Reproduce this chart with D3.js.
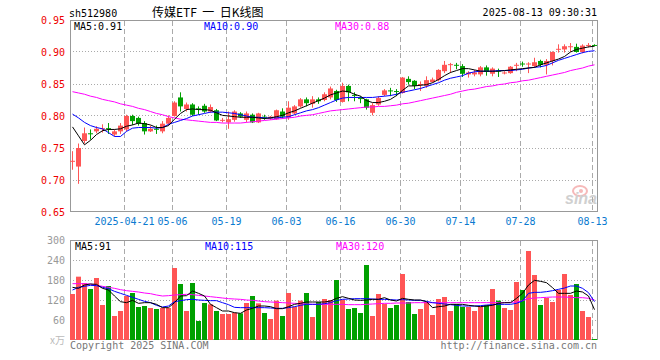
<!DOCTYPE html>
<html>
<head>
<meta charset="utf-8">
<script src="https://cdn.jsdelivr.net/npm/d3@7"></script>
<style>
  body { margin: 0; background: #fff; }
  svg { display: block; }
  text { font-family: "DejaVu Sans Mono", "Liberation Mono", monospace; font-size: 10px; }
</style>
</head>
<body>
<div id="chart"></div>
<script>
// trading days shown (2025)
const dates = [
  '04-08','04-09','04-10','04-11','04-14','04-15','04-16','04-17','04-18','04-21',
  '04-22','04-23','04-24','04-25','04-28','04-29','04-30','05-06','05-07','05-08',
  '05-09','05-12','05-13','05-14','05-15','05-16','05-19','05-20','05-21','05-22',
  '05-23','05-26','05-27','05-28','05-29','05-30','06-03','06-04','06-05','06-06',
  '06-09','06-10','06-11','06-12','06-13','06-16','06-17','06-18','06-19','06-20',
  '06-23','06-24','06-25','06-26','06-27','06-30','07-01','07-02','07-03','07-04',
  '07-07','07-08','07-09','07-10','07-11','07-14','07-15','07-16','07-17','07-18',
  '07-21','07-22','07-23','07-24','07-25','07-28','07-29','07-30','07-31','08-01',
  '08-04','08-05','08-06','08-07','08-08','08-11','08-12','08-13'
];

const open = [
  0.729,0.721,0.761,0.773,0.776,0.780,0.781,0.771,0.776,0.779,
  0.800,0.797,0.789,0.776,0.780,0.776,0.788,0.800,0.829,0.811,
  0.818,0.812,0.816,0.807,0.809,0.793,0.790,0.794,0.804,0.794,
  0.802,0.790,0.799,0.796,0.795,0.807,0.797,0.804,0.815,0.826,
  0.819,0.826,0.825,0.829,0.839,0.822,0.847,0.833,0.828,0.826,
  0.805,0.818,0.833,0.840,0.839,0.836,0.858,0.855,0.849,0.847,
  0.853,0.856,0.870,0.880,0.880,0.878,0.865,0.865,0.865,0.876,
  0.866,0.871,0.867,0.867,0.879,0.882,0.881,0.878,0.886,0.880,
  0.886,0.904,0.904,0.908,0.908,0.900,0.910,0.911
];
const high = [
  0.745,0.757,0.782,0.779,0.784,0.787,0.789,0.779,0.789,0.802,
  0.802,0.799,0.792,0.785,0.785,0.792,0.801,0.823,0.837,0.821,
  0.820,0.815,0.819,0.818,0.811,0.797,0.807,0.809,0.806,0.807,
  0.804,0.805,0.802,0.800,0.810,0.812,0.823,0.817,0.828,0.829,
  0.831,0.829,0.837,0.846,0.841,0.852,0.849,0.837,0.831,0.827,
  0.820,0.831,0.842,0.844,0.842,0.861,0.862,0.856,0.854,0.862,
  0.860,0.873,0.886,0.883,0.883,0.881,0.870,0.872,0.878,0.879,
  0.876,0.874,0.870,0.878,0.883,0.885,0.884,0.891,0.888,0.889,
  0.901,0.912,0.912,0.914,0.913,0.912,0.914,0.912
];
const low = [
  0.716,0.694,0.757,0.763,0.773,0.774,0.772,0.768,0.772,0.776,
  0.786,0.785,0.771,0.775,0.772,0.773,0.785,0.799,0.807,0.807,
  0.800,0.802,0.805,0.805,0.792,0.790,0.780,0.791,0.797,0.790,
  0.789,0.789,0.794,0.794,0.794,0.796,0.794,0.802,0.813,0.815,
  0.813,0.819,0.823,0.826,0.822,0.821,0.823,0.823,0.820,0.810,
  0.801,0.816,0.831,0.831,0.831,0.835,0.849,0.842,0.839,0.844,
  0.852,0.854,0.867,0.867,0.873,0.861,0.860,0.862,0.862,0.863,
  0.862,0.861,0.865,0.866,0.870,0.877,0.867,0.875,0.876,0.865,
  0.879,0.899,0.899,0.900,0.899,0.898,0.907,0.909
];
const close = [
  0.730,0.750,0.773,0.772,0.780,0.781,0.780,0.776,0.785,0.800,
  0.792,0.788,0.776,0.780,0.779,0.788,0.797,0.821,0.815,0.818,
  0.802,0.811,0.807,0.814,0.793,0.794,0.795,0.807,0.799,0.804,
  0.790,0.804,0.798,0.799,0.809,0.799,0.813,0.815,0.826,0.820,
  0.826,0.823,0.834,0.843,0.825,0.847,0.837,0.832,0.827,0.813,
  0.817,0.828,0.840,0.839,0.838,0.860,0.853,0.847,0.850,0.856,
  0.857,0.872,0.880,0.881,0.879,0.866,0.868,0.868,0.876,0.869,
  0.874,0.870,0.868,0.877,0.880,0.881,0.882,0.884,0.880,0.886,
  0.900,0.905,0.909,0.909,0.900,0.910,0.911,0.910
];

const ma5 = [
  0.783,0.769,0.755,0.762,0.771,0.777,0.779,0.779,0.780,0.784,
  0.786,0.789,0.788,0.786,0.782,0.782,0.785,0.795,0.804,0.810,
  0.811,0.810,0.810,0.809,0.805,0.801,0.800,0.799,0.798,0.798,
  0.798,0.797,0.796,0.797,0.799,0.801,0.805,0.808,0.812,0.816,
  0.820,0.824,0.828,0.833,0.836,0.839,0.838,0.834,0.831,0.824,
  0.821,0.821,0.823,0.826,0.832,0.840,0.847,0.847,0.848,0.849,
  0.852,0.857,0.863,0.868,0.871,0.874,0.874,0.872,0.870,0.870,
  0.870,0.870,0.871,0.872,0.873,0.874,0.875,0.876,0.880,0.883,
  0.886,0.889,0.893,0.900,0.904,0.906,0.908,0.909
];
const ma10 = [
  0.803,0.797,0.790,0.785,0.782,0.780,0.774,0.768,0.768,0.776,
  0.781,0.782,0.782,0.782,0.781,0.782,0.787,0.790,0.793,0.796,
  0.800,0.802,0.804,0.806,0.806,0.806,0.805,0.804,0.802,0.800,
  0.798,0.798,0.797,0.797,0.797,0.798,0.799,0.802,0.805,0.808,
  0.810,0.813,0.817,0.821,0.825,0.828,0.829,0.829,0.829,0.829,
  0.829,0.830,0.831,0.832,0.834,0.837,0.839,0.841,0.843,0.846,
  0.849,0.852,0.856,0.859,0.861,0.863,0.867,0.869,0.870,0.870,
  0.870,0.871,0.871,0.871,0.872,0.873,0.875,0.876,0.877,0.879,
  0.883,0.887,0.890,0.893,0.896,0.899,0.901,0.902
];
const ma30 = [
  0.838,0.836,0.834,0.831,0.829,0.826,0.824,0.822,0.819,0.817,
  0.815,0.812,0.810,0.807,0.804,0.802,0.799,0.797,0.795,0.794,
  0.793,0.792,0.791,0.790,0.790,0.789,0.789,0.789,0.789,0.790,
  0.791,0.792,0.793,0.794,0.795,0.796,0.797,0.798,0.800,0.801,
  0.802,0.804,0.806,0.808,0.809,0.810,0.811,0.812,0.813,0.814,
  0.814,0.815,0.815,0.816,0.817,0.819,0.820,0.822,0.824,0.826,
  0.828,0.830,0.832,0.834,0.837,0.839,0.841,0.842,0.844,0.846,
  0.847,0.849,0.850,0.852,0.853,0.855,0.856,0.858,0.860,0.862,
  0.864,0.866,0.868,0.871,0.873,0.875,0.878,0.880
];

// volume in 10k lots
const volume = [
  138,190,171,153,186,105,162,72,87,132,
  141,99,102,96,93,96,96,216,168,87,
  171,57,111,107,87,78,78,82,80,111,
  132,110,81,63,118,72,141,100,118,141,
  69,114,123,120,180,121,93,96,81,225,
  72,138,108,96,105,198,114,78,93,114,
  75,123,129,87,108,99,99,87,99,105,
  153,118,96,90,174,150,267,195,105,126,
  114,150,198,135,168,87,69,3
];
const volMa5 = [
  158,155,165,168,167,155,150,132,115,112,
  119,110,112,112,107,97,97,112,132,133,
  147,140,132,107,97,87,87,82,80,90,
  95,102,102,100,94,94,100,107,110,114,
  114,114,114,117,125,130,125,120,119,120,
  122,122,127,120,117,125,122,120,120,115,
  97,100,102,107,107,107,104,102,100,102,
  104,110,112,112,125,140,165,179,176,172,
  157,140,140,140,147,144,132,91
];
const volMa10 = [
  150,158,161,164,163,158,154,146,140,134,
  128,122,116,112,104,99,102,115,118,121,
  122,120,119,118,118,112,106,98,97,97,
  97,97,97,96,95,95,97,100,104,107,
  107,107,109,112,118,122,123,124,124,124,
  123,122,122,121,120,121,120,119,119,116,
  112,110,108,106,104,102,102,102,103,105,
  106,107,107,107,110,117,140,143,143,145,
  148,152,156,162,162,155,142,115
];
const volMa30 = [
  169,169,169,168,164,161,158,155,151,148,
  146,144,141,139,135,132,133,135,136,137,
  136,134,132,130,128,126,124,123,122,120,
  119,117,115,114,113,112,111,110,109,108,
  107,107,107,107,107,107,106,106,106,107,
  108,109,110,110,111,111,111,112,112,112,
  112,112,112,112,112,112,112,112,112,112,
  112,112,112,113,114,118,124,126,127,128,
  129,129,129,128,127,127,125,120
];

const tickDates = ['04-21','05-06','05-19','06-03','06-16','06-30','07-14','07-28','08-13'];
const tickLabels = ['2025-04-21','05-06','05-19','06-03','06-16','06-30','07-14','07-28','08-13'];
const priceTicks = [0.65, 0.70, 0.75, 0.80, 0.85, 0.90, 0.95];
const volTicks = [60, 120, 180, 240, 300];

const RED = '#ff5555', GREEN = '#00a000';
const grid = '#aaa', frame = '#999';

const svg = d3.select('#chart').append('svg').attr('width', 660).attr('height', 360);

const x = d3.scaleBand().domain(dates).range([70, 598]).paddingInner(1 / 6).paddingOuter(1 / 12);
const bx = d => Math.floor(x(d));
const cx = d => Math.floor(x(d)) + 2.5;
const y = d3.scaleLinear().domain([0.65, 0.95]).range([212, 20]);
const yv = d3.scaleLinear().domain([0, 300]).range([340, 240]);
const px = v => Math.floor(v) + 0.5;

const rising = dates.map((d, i) => close[i] >= open[i]);

// ---- header
svg.append('text').attr('x', 69).attr('y', 17).text('sh512980');
svg.append('text').attr('x', 152).attr('y', 17)
  .style('font-family', '"Noto Sans CJK SC", sans-serif').style('font-size', '12px')
  .text('传媒ETF\u00a0\u00a0一\u00a0\u00a0日K线图');
svg.append('text').attr('x', 597).attr('y', 16).attr('text-anchor', 'end').text('2025-08-13 09:30:31');

// ---- grids (price)
const gPrice = svg.append('g');
gPrice.selectAll('line.h').data(priceTicks.slice(1, -1)).join('line')
  .attr('x1', 70).attr('x2', 598).attr('y1', d => px(y(d))).attr('y2', d => px(y(d)))
  .attr('stroke', grid).attr('stroke-dasharray', '1,2');
gPrice.selectAll('line.v').data(tickDates).join('line')
  .attr('x1', d => px(x(d))).attr('x2', d => px(x(d))).attr('y1', 21).attr('y2', 211)
  .attr('stroke', grid).attr('stroke-dasharray', '5,3');
gPrice.append('rect').attr('x', 70.5).attr('y', 20.5).attr('width', 527).attr('height', 191)
  .attr('fill', 'none').attr('stroke', frame);

// watermark
const wm = svg.append('g').attr('opacity', 0.55);
wm.append('ellipse').attr('cx', 580).attr('cy', 191).attr('rx', 7).attr('ry', 5)
  .attr('fill', 'none').attr('stroke', '#f08080').attr('stroke-width', 2);
wm.append('circle').attr('cx', 581).attr('cy', 191).attr('r', 2).attr('fill', '#f08080');
wm.append('text').attr('x', 565).attr('y', 204)
  .style('font-family', 'Arial, "Liberation Sans", sans-serif').style('font-size', '16px')
  .style('font-weight', 'bold').style('font-style', 'italic').attr('fill', '#aaa').text('sina');

// price labels
svg.append('g').selectAll('text').data(priceTicks).join('text')
  .attr('x', 65).attr('y', d => y(d) + 4).attr('text-anchor', 'end').attr('fill', '#e00')
  .text(d => d.toFixed(2));

// date labels
svg.append('g').selectAll('text').data(tickDates).join('text')
  .attr('x', d => px(x(d))).attr('y', 225).attr('text-anchor', 'middle').attr('fill', '#0a7ad0')
  .text((d, i) => tickLabels[i]);

// candles
const candles = svg.append('g').selectAll('g').data(dates).join('g');
candles.append('line')
  .attr('x1', d => cx(d)).attr('x2', d => cx(d))
  .attr('y1', (d, i) => y(high[i])).attr('y2', (d, i) => y(low[i]))
  .attr('stroke', (d, i) => rising[i] ? RED : GREEN);
candles.append('rect')
  .attr('x', d => bx(d)).attr('width', 5)
  .attr('y', (d, i) => y(Math.max(open[i], close[i])))
  .attr('height', (d, i) => Math.max(1, Math.abs(y(open[i]) - y(close[i]))))
  .attr('fill', (d, i) => rising[i] ? RED : GREEN);

// price MAs
const priceLine = arr => d3.line().x(d => cx(d)).y((d, i) => y(arr[i]))(dates);
[[ma30, '#f0f'], [ma10, '#00f'], [ma5, '#000']].forEach(([arr, c]) => {
  svg.append('path').attr('d', priceLine(arr)).attr('fill', 'none').attr('stroke', c).attr('stroke-width', 1);
});

const legendX = [74, 204, 335];
const maLegend = [['MA5:', ma5, '#000'], ['MA10:', ma10, '#00f'], ['MA30:', ma30, '#f0f']];
maLegend.forEach(([t, arr, c], k) => {
  svg.append('text').attr('x', legendX[k]).attr('y', 30).attr('fill', c)
    .text(t + arr[arr.length - 1].toFixed(2));
});

// ---- volume panel
const gVol = svg.append('g');
gVol.selectAll('line.h').data(volTicks.slice(0, -1)).join('line')
  .attr('x1', 70).attr('x2', 598).attr('y1', d => px(yv(d))).attr('y2', d => px(yv(d)))
  .attr('stroke', grid).attr('stroke-dasharray', '1,2');
gVol.selectAll('line.v').data(tickDates).join('line')
  .attr('x1', d => px(x(d))).attr('x2', d => px(x(d))).attr('y1', 241).attr('y2', 339)
  .attr('stroke', grid).attr('stroke-dasharray', '5,3');

svg.append('g').selectAll('rect').data(dates).join('rect')
  .attr('x', d => bx(d)).attr('width', 5)
  .attr('y', (d, i) => yv(volume[i])).attr('height', (d, i) => yv(0) - yv(volume[i]))
  .attr('fill', (d, i) => rising[i] ? RED : GREEN);

gVol.append('rect').attr('x', 70.5).attr('y', 240.5).attr('width', 527).attr('height', 99)
  .attr('fill', 'none').attr('stroke', frame);

const volLine = arr => d3.line().x(d => cx(d)).y((d, i) => yv(arr[i]))(dates);
[[volMa30, '#f0f'], [volMa10, '#00f'], [volMa5, '#000']].forEach(([arr, c]) => {
  svg.append('path').attr('d', volLine(arr)).attr('fill', 'none').attr('stroke', c).attr('stroke-width', 1);
});

svg.append('g').selectAll('text').data(volTicks).join('text')
  .attr('x', 65).attr('y', d => yv(d) + 4).attr('text-anchor', 'end').attr('fill', '#999')
  .text(d => d);
svg.append('text').attr('x', 65).attr('y', 344).attr('text-anchor', 'end').attr('fill', '#bbb')
  .style('font-family', '"Noto Sans CJK SC", sans-serif').text('x万');

const volLegend = [['MA5:', volMa5, '#000'], ['MA10:', volMa10, '#00f'], ['MA30:', volMa30, '#f0f']];
volLegend.forEach(([t, arr, c], k) => {
  svg.append('text').attr('x', legendX[k] + 1).attr('y', 250).attr('fill', c)
    .text(t + arr[arr.length - 1]);
});

// footer
svg.append('text').attr('x', 70).attr('y', 349).attr('fill', '#777').text('Copyright 2025 SINA.COM');
svg.append('text').attr('x', 597).attr('y', 349).attr('text-anchor', 'end').attr('fill', '#777')
  .text('http://finance.sina.com.cn');
</script>
</body>
</html>
